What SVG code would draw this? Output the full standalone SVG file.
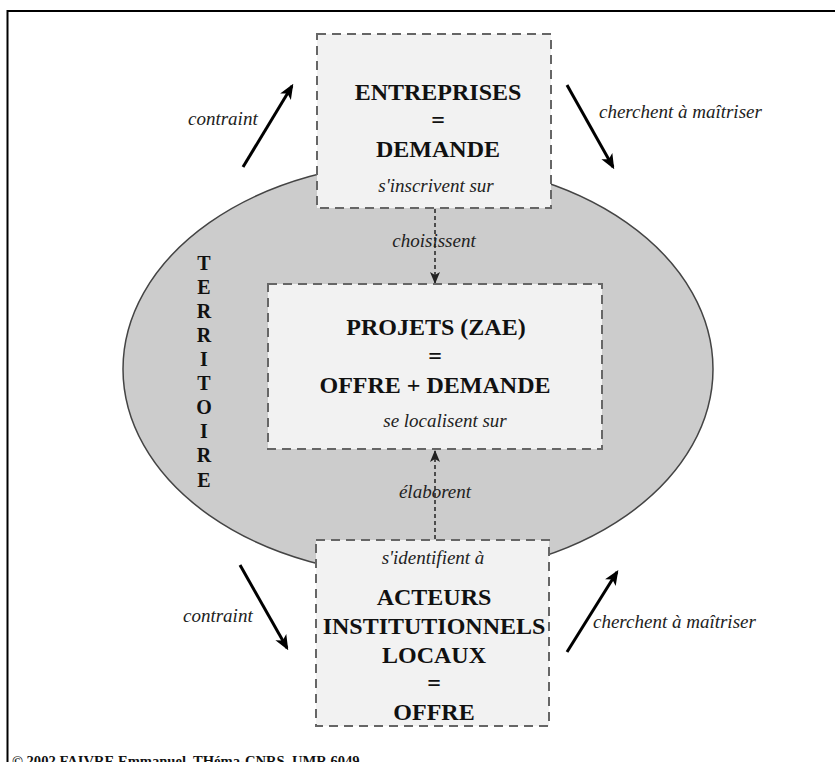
<svg xmlns="http://www.w3.org/2000/svg" width="835" height="762" viewBox="0 0 835 762">
<defs>
<style>
.box{fill:#f2f2f2;stroke:#666;stroke-width:2;stroke-dasharray:9 6}
.b{font-family:"Liberation Serif","Times New Roman",serif;font-weight:bold;font-size:24px;fill:#111;text-anchor:middle}
.i{font-family:"Liberation Serif","Times New Roman",serif;font-style:italic;font-size:19px;fill:#222;text-anchor:middle}
.il{font-family:"Liberation Serif","Times New Roman",serif;font-style:italic;font-size:19px;fill:#222}
.solid{stroke:#000;stroke-width:3;fill:none;marker-end:url(#ah)}
.dash{stroke:#222;stroke-width:1.5;stroke-dasharray:4 3;fill:none;marker-end:url(#ad)}
</style>
<marker id="ah" viewBox="0 0 12 10" refX="10" refY="5" markerWidth="5" markerHeight="5" orient="auto" markerUnits="strokeWidth">
<path d="M0,0 L12,5 L0,10 L3,5 z" fill="#000"/>
</marker>
<marker id="ad" viewBox="0 0 12 10" refX="11" refY="5" markerWidth="8" markerHeight="7" orient="auto" markerUnits="strokeWidth">
<path d="M0,0 L12,5 L0,10 L3,5 z" fill="#222"/>
</marker>
</defs>
<rect width="835" height="762" fill="#fff"/>
<path d="M7.5,770 V11 H840" fill="none" stroke="#000" stroke-width="2"/>
<g id="territoire">
<ellipse cx="418" cy="369" rx="295" ry="207" fill="#cccccc" stroke="#444" stroke-width="1.5"/>
<g font-family="Liberation Serif,Times New Roman,serif" font-weight="bold" font-size="20" fill="#111" text-anchor="middle">
<text x="204" y="270">T</text>
<text x="204" y="294">E</text>
<text x="204" y="318">R</text>
<text x="204" y="342">R</text>
<text x="204" y="366">I</text>
<text x="204" y="390">T</text>
<text x="204" y="414">O</text>
<text x="204" y="438">I</text>
<text x="204" y="462">R</text>
<text x="204" y="487">E</text>
</g>
</g>
<g id="connectors">
<path class="dash" d="M435,209 V283"/>
<path class="dash" d="M435,539 V451"/>
<path class="solid" d="M243,167 L292,86"/>
<path class="solid" d="M567,85 L613,167"/>
<path class="solid" d="M240,565 L287,648"/>
<path class="solid" d="M567,652 L617,572"/>
<text class="i" x="434" y="247">choisissent</text>
<text class="i" x="435" y="498">élaborent</text>
<text class="il" x="188" y="125">contraint</text>
<text class="il" x="599" y="118">cherchent à maîtriser</text>
<text class="il" x="183" y="622">contraint</text>
<text class="il" x="593" y="628">cherchent à maîtriser</text>
</g>
<g id="entreprises">
<rect class="box" x="317" y="34" width="234" height="174"/>
<text class="b" x="438" y="100">ENTREPRISES</text>
<text class="b" x="438" y="128">=</text>
<text class="b" x="438" y="157">DEMANDE</text>
<text class="i" x="436" y="192">s'inscrivent sur</text>
</g>
<g id="projets">
<rect class="box" x="268" y="284" width="334" height="165"/>
<text class="b" x="436" y="335">PROJETS (ZAE)</text>
<text class="b" x="435" y="364">=</text>
<text class="b" x="435" y="393">OFFRE + DEMANDE</text>
<text class="i" x="445" y="427">se localisent sur</text>
</g>
<g id="acteurs">
<rect class="box" x="316" y="540" width="233" height="186"/>
<text class="i" x="433" y="564">s'identifient à</text>
<text class="b" x="434" y="605">ACTEURS</text>
<text class="b" x="434" y="634">INSTITUTIONNELS</text>
<text class="b" x="434" y="663">LOCAUX</text>
<text class="b" x="434" y="691">=</text>
<text class="b" x="434" y="720">OFFRE</text>
</g>
<text x="12" y="766" font-family="Liberation Serif,Times New Roman,serif" font-weight="bold" font-size="14.6" fill="#111">© 2002 FAIVRE Emmanuel, THéma-CNRS, UMR 6049</text>
</svg>
